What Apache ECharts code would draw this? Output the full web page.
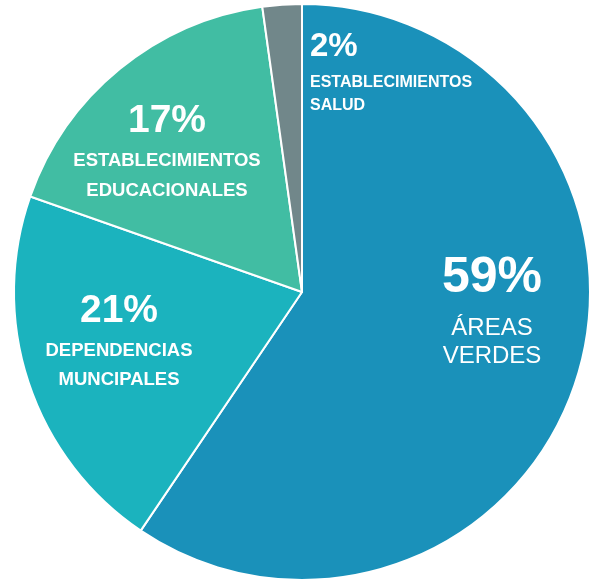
<!DOCTYPE html>
<html>
<head>
<meta charset="utf-8">
<script src="https://cdn.jsdelivr.net/npm/echarts@6/dist/echarts.min.js"></script>
<style>
html,body{margin:0;padding:0;background:#fff;}
#chart{width:596px;height:585px;}
</style>
</head>
<body>
<div id="chart"></div>
<script>
// Data (clockwise from 12 o'clock); shares
var categories = ['ÁREAS\nVERDES', 'DEPENDENCIAS\nMUNCIPALES', 'ESTABLECIMIENTOS\nEDUCACIONALES', 'ESTABLECIMIENTOS\nSALUD'];
var values = [59.4, 20.9, 17.4, 2.2];

var colors = ['#1a91ba', '#1bb3be', '#41bda3', '#71878a'];
var sizeClass = ['a', 'b', 'd', 'c'];
var labelPlace = [
  {x: 492, y: 242, align: 'center', verticalAlign: 'top'},
  {x: 119, y: 286, align: 'center', verticalAlign: 'top'},
  {x: 167, y: 96, align: 'center', verticalAlign: 'top'},
  {x: 310, y: 22, align: 'left', verticalAlign: 'top'}
];

var chart = echarts.init(document.getElementById('chart'), null, {renderer: 'canvas'});
var FONT = '"Liberation Sans", Arial, sans-serif';
var data = categories.map(function (c, i) {
  return {name: c, value: values[i], itemStyle: {color: colors[i]}};
});
chart.setOption({
  animation: false,
  series: [{
    type: 'pie',
    center: [302, 292],
    radius: [0, 288],
    startAngle: 90,
    clockwise: true,
    avoidLabelOverlap: false,
    itemStyle: {borderColor: '#ffffff', borderWidth: 2},
    labelLine: {show: false},
    label: {
      show: true,
      position: 'inside',
      color: '#ffffff',
      fontFamily: FONT,
      formatter: function (p) {
        var k = sizeClass[p.dataIndex];
        var lines = p.name.split('\n');
        return '{p' + k + '|' + Math.round(p.value) + '%}\n' + lines.map(function (l) { return '{n' + k + '|' + l + '}'; }).join('\n');
      },
      rich: {
        pa: {fontSize: 50, fontWeight: 'bold', lineHeight: 72, color: '#fff', fontFamily: FONT},
        na: {fontSize: 24, fontWeight: 'normal', lineHeight: 28, color: '#fff', fontFamily: FONT},
        pb: {fontSize: 39, fontWeight: 'bold', lineHeight: 50, color: '#fff', fontFamily: FONT},
        nb: {fontSize: 18.5, fontWeight: 'bold', lineHeight: 29, color: '#fff', fontFamily: FONT},
        pd: {fontSize: 39, fontWeight: 'bold', lineHeight: 50, color: '#fff', fontFamily: FONT},
        nd: {fontSize: 18.5, fontWeight: 'bold', lineHeight: 30, color: '#fff', fontFamily: FONT},
        pc: {fontSize: 33, fontWeight: 'bold', lineHeight: 49, color: '#fff', fontFamily: FONT},
        nc: {fontSize: 16, fontWeight: 'bold', lineHeight: 23, color: '#fff', fontFamily: FONT}
      }
    },
    labelLayout: function (params) {
      return labelPlace[params.dataIndex];
    },
    data: data
  }]
});
</script>
</body>
</html>
